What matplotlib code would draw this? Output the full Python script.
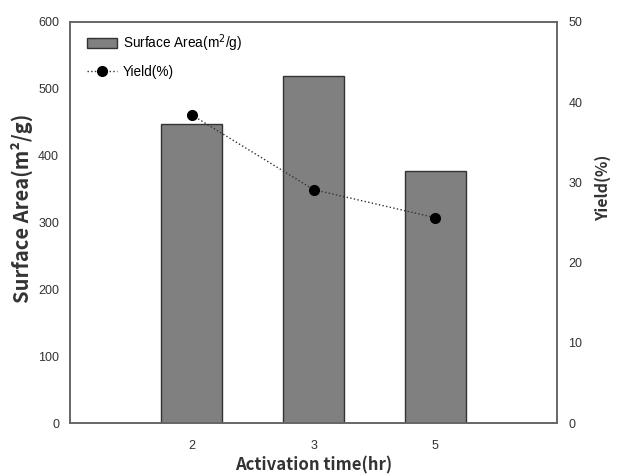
import matplotlib.pyplot as plt

# data
times = ["2", "3", "5"]
surface_area = [447, 519, 377]
yield_pct = [38.4, 29.1, 25.6]


def main():
    plt.rcParams['font.family'] = ['Liberation Sans', 'DejaVu Sans']
    fig = plt.figure(figsize=(6.26, 4.75), dpi=100)
    ax = fig.add_axes([0.112, 0.109, 0.778, 0.845])
    ax2 = ax.twinx()

    pos = list(range(len(times)))
    bars = ax.bar(pos, surface_area, width=0.5, color='#808080',
                  edgecolor='#333333', linewidth=1.0,
                  label='Surface Area(m$^2$/g)')
    line, = ax2.plot(pos, yield_pct, linestyle=':', color='#333333',
                     linewidth=1.0, marker='o', markersize=7,
                     markerfacecolor='black', markeredgecolor='black',
                     label='Yield(%)')

    ax.set_xlim(-1, 3)
    ax.set_ylim(0, 600)
    ax2.set_ylim(0, 50)
    ax.set_xticks(pos)
    ax.set_xticklabels(times)
    ax.set_yticks(range(0, 601, 100))
    ax2.set_yticks(range(0, 51, 10))

    for a in (ax, ax2):
        a.tick_params(length=0, labelsize=9, colors='#333333', pad=8)
        for s in a.spines.values():
            s.set_color('#666666')
            s.set_linewidth(1.2)
    ax.tick_params(axis='x', pad=12)

    lab = dict(fontweight='bold', color='#333333',
               family=['Noto Sans CJK KR', 'DejaVu Sans'])
    ax.set_xlabel('Activation time(hr)', fontsize=12, **lab)
    ax.set_ylabel('Surface Area(m²/g)', fontsize=14.5, **lab)
    ax2.set_ylabel('Yield(%)', rotation=90, fontsize=11.5, **lab)
    ax.xaxis.set_label_coords(0.5, -0.082)
    ax.yaxis.set_label_coords(-0.076, 0.536)
    ax2.yaxis.set_label_coords(1.078, 0.586)

    ax.legend([bars, line], ['Surface Area(m$^2$/g)', 'Yield(%)'],
              loc='upper left', bbox_to_anchor=(0.014, 1.0),
              frameon=False, fontsize=9.8,
              handlelength=2.2, handletextpad=0.45,
              borderaxespad=0.35, labelspacing=0.8)

    fig.savefig('out.png', dpi=100)


if __name__ == "__main__":
    main()
